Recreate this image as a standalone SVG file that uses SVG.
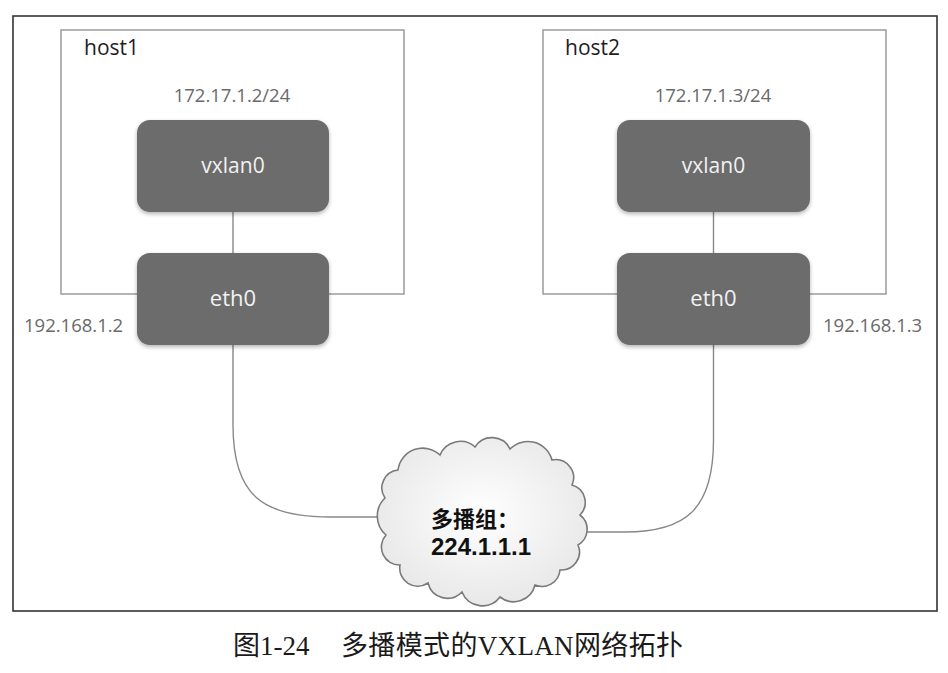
<svg xmlns="http://www.w3.org/2000/svg" width="948" height="673" viewBox="0 0 948 673">
<style>
.frame{fill:none;stroke:#333;stroke-width:1.6}
.host{fill:none;stroke:#9a9a9a;stroke-width:1.5}
.node{fill:#6c6c6c}
.nlabel{font-family:"Open Sans","Noto Sans",sans-serif;fill:#f2f2f2;text-anchor:middle}
.hlabel{font-family:"Open Sans","Noto Sans",sans-serif;font-size:21px;fill:#1e1e1e}
.ip{font-family:"Open Sans","Noto Sans",sans-serif;font-size:18.5px;fill:#6a6a6a}
.conn{fill:none;stroke:#888;stroke-width:1.4}
.cloud{fill:url(#cg);stroke:#7a7a7a;stroke-width:1.6}
.ctext{font-family:"Liberation Sans","Noto Sans CJK SC",sans-serif;font-weight:bold;fill:#111}
.cap{font-family:"Liberation Serif","Noto Sans CJK SC",serif;font-size:27px;fill:#1a1a1a}
</style>
<defs>
<radialGradient id="cg" cx="0.5" cy="0.45" r="0.6">
<stop offset="0" stop-color="#ffffff"/>
<stop offset="1" stop-color="#e6e6e6"/>
</radialGradient>
<filter id="sh" x="-10%" y="-10%" width="120%" height="130%">
<feGaussianBlur in="SourceAlpha" stdDeviation="2"/>
<feOffset dy="2" result="b"/>
<feComponentTransfer><feFuncA type="linear" slope="0.3"/></feComponentTransfer>
<feMerge><feMergeNode/><feMergeNode in="SourceGraphic"/></feMerge>
</filter>
</defs>
<rect width="948" height="673" fill="#fff"/>
<rect class="frame" x="13" y="16" width="924" height="595"/>

<g id="host1">
<rect class="host" x="61" y="30" width="343" height="264"/>
<text class="hlabel" x="84" y="55">host1</text>
</g>
<g id="host2">
<rect class="host" x="543" y="30" width="343" height="264"/>
<text class="hlabel" x="565" y="55">host2</text>
</g>

<g id="connectors">
<line class="conn" x1="233" y1="212" x2="233" y2="253"/>
<line class="conn" x1="713.5" y1="212" x2="713.5" y2="253"/>
<path class="conn" d="M233,345 L233,425 C233,495 262,517 330,517 L380,517"/>
<path class="conn" d="M713.5,345 L713.5,440 C713.5,510 685,532 625,532 L582,532"/>
</g>

<g id="h1-vxlan0">
<text class="ip" x="232" y="102" text-anchor="middle">172.17.1.2/24</text>
<rect class="node" filter="url(#sh)" x="137" y="120" width="192" height="92" rx="13"/>
<text class="nlabel" x="233" y="173" font-size="21">vxlan0</text>
</g>
<g id="h1-eth0">
<rect class="node" filter="url(#sh)" x="137" y="253" width="192" height="92" rx="13"/>
<text class="nlabel" x="233" y="306" font-size="22">eth0</text>
<text class="ip" x="24" y="332">192.168.1.2</text>
</g>
<g id="h2-vxlan0">
<text class="ip" x="713" y="102" text-anchor="middle">172.17.1.3/24</text>
<rect class="node" filter="url(#sh)" x="617" y="120" width="193" height="92" rx="13"/>
<text class="nlabel" x="713.5" y="173" font-size="21">vxlan0</text>
</g>
<g id="h2-eth0">
<rect class="node" filter="url(#sh)" x="617" y="253" width="193" height="92" rx="13"/>
<text class="nlabel" x="713.5" y="306" font-size="22">eth0</text>
<text class="ip" x="823" y="332">192.168.1.3</text>
</g>

<g id="cloud">
<path class="cloud" d="M385,498 A18,18 0 0 1 398,470 A25,25 0 0 1 440,455 A22,22 0 0 1 475,447 A20,20 0 0 1 510,449 A25,25 0 0 1 552,460 A18,18 0 0 1 572,485 A18,18 0 0 1 580,515 A18,18 0 0 1 578,545 A18,18 0 0 1 560,570 A18,18 0 0 1 535,585 A22,22 0 0 1 500,597 A22,22 0 0 1 462,592 A20,20 0 0 1 428,583 A18,18 0 0 1 400,565 A18,18 0 0 1 386,535 A25,25 0 0 1 385,498 Z"/>
<text class="ctext" x="431" y="527" font-size="22">多播组：</text>
<text class="ctext" x="431" y="555" font-size="24">224.1.1.1</text>
</g>

<g id="caption">
<text class="cap" x="233" y="655">图1-24</text>
<text class="cap" x="341" y="655" textLength="342" lengthAdjust="spacing">多播模式的VXLAN网络拓扑</text>
</g>
</svg>
